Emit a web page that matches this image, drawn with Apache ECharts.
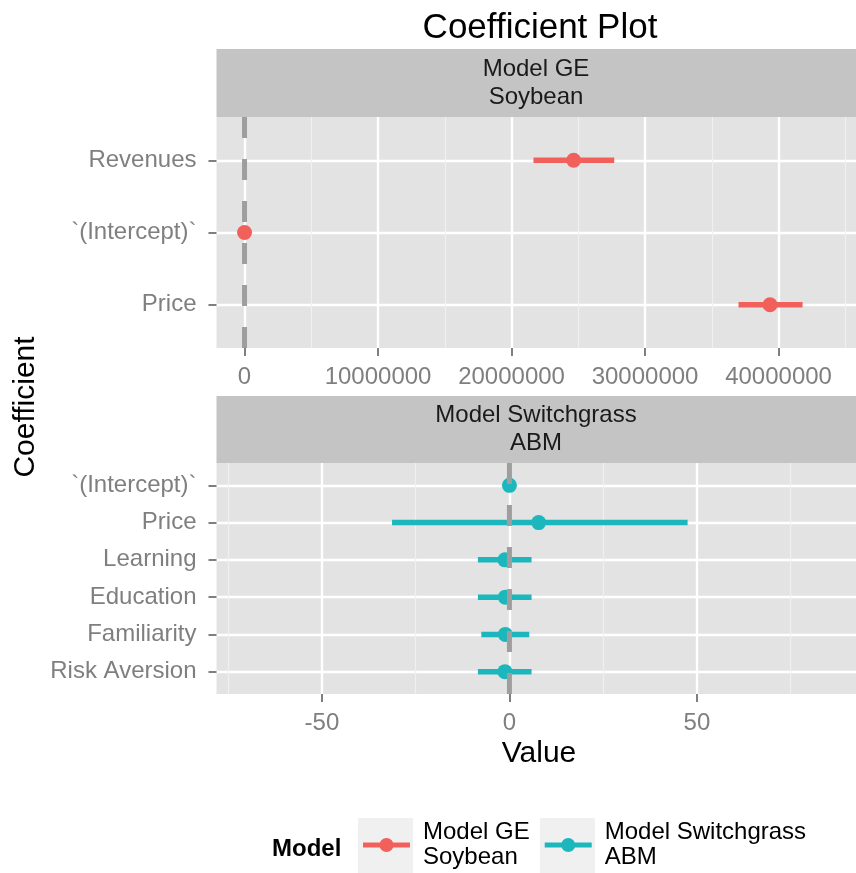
<!DOCTYPE html>
<html>
<head>
<meta charset="utf-8">
<script src="https://cdn.jsdelivr.net/npm/echarts@6/dist/echarts.min.js"></script>
<style>
html,body{margin:0;padding:0;background:#fff;}
#chart{width:856px;height:873px;}
</style>
</head>
<body>
<div id="chart"></div>
<script>
// ---------- data ----------
const chartTitle = 'Coefficient Plot';
const xTitle = 'Value';
const yTitle = 'Coefficient';
const legendTitle = 'Model';
const models = ['Model GE\nSoybean', 'Model Switchgrass\nABM'];

const geCoefs = ['Revenues', '`(Intercept)`', 'Price'];
const geEst  = [24650000, 0, 39360000];
const geLow  = [21640000, -150000, 37000000];
const geHigh = [27690000, 150000, 41800000];
const geTicks = [0, 10000000, 20000000, 30000000, 40000000];
const geMinor = [5000000, 15000000, 25000000, 35000000, 45000000];
const geRange = [-2100000, 45800000];

const abmCoefs = ['`(Intercept)`', 'Price', 'Learning', 'Education', 'Familiarity', 'Risk Aversion'];
const abmEst  = [0, 7.8, -1.2, -1.1, -1.1, -1.2];
const abmLow  = [-0.8, -31.3, -8.4, -8.4, -7.5, -8.4];
const abmHigh = [0.8, 47.5, 5.9, 5.9, 5.3, 5.9];
const abmTicks = [-50, 0, 50];
const abmMinor = [-75, -25, 25, 75];
const abmRange = [-78.1, 92.4];

const zeroRef = 0;

// ---------- style ----------
const FONT = "'Liberation Sans', Arial, Helvetica, sans-serif";
const COLORS = ['#F2605C', '#1BB7BD'];
const PANEL_BG = '#E3E3E3';
const STRIP_BG = '#C4C4C4';
const GRAY_TXT = '#7f7f7f';
const PANEL_LEFT = 216.5, PANEL_W = 856 - 216.5, PANEL_H = 231;
const PANEL_TOPS = [117, 463];
const STRIPS = [[49, 68], [396, 67]];

const chart = echarts.init(document.getElementById('chart'));

function panelDefs(gi, cats, ticks, minor, range) {
  const n = cats.length;
  const idx = cats.map((c, i) => i);
  const xMinor = {
    type: 'value', gridIndex: gi, min: range[0], max: range[1], position: 'top',
    axisLine: {show: false, onZero: false},
    axisTick: {show: false, customValues: minor},
    axisLabel: {show: false},
    splitLine: {show: true, lineStyle: {color: '#F0F0F0', width: 1.2}}
  };
  const xMajor = {
    type: 'value', gridIndex: gi, min: range[0], max: range[1], position: 'bottom',
    axisLine: {show: false, onZero: false},
    axisTick: {show: true, customValues: ticks, length: 8, lineStyle: {color: GRAY_TXT, width: 2}},
    axisLabel: {customValues: ticks, formatter: v => String(Math.round(v)), color: GRAY_TXT,
                fontSize: 24, fontFamily: FONT, margin: 17},
    splitLine: {show: true, lineStyle: {color: '#FFFFFF', width: 2.4}}
  };
  const y = {
    type: 'value', gridIndex: gi, min: -0.6, max: n - 1 + 0.6, inverse: true, position: 'left',
    axisLine: {show: false, onZero: false},
    axisTick: {show: true, customValues: idx, length: 8, lineStyle: {color: GRAY_TXT, width: 2}},
    axisLabel: {customValues: idx, formatter: v => cats[Math.round(v)], color: GRAY_TXT,
                fontSize: 24, fontFamily: FONT, margin: 20},
    splitLine: {show: true, lineStyle: {color: '#FFFFFF', width: 2.4}}
  };
  return {xMinor, xMajor, y, n};
}

const p0 = panelDefs(0, geCoefs, geTicks, geMinor, geRange);
const p1 = panelDefs(1, abmCoefs, abmTicks, abmMinor, abmRange);

function renderCI(color) {
  return function (params, api) {
    const yv = api.value(1);
    const a = api.coord([api.value(2), yv]);
    const b = api.coord([api.value(3), yv]);
    const c = api.coord([api.value(0), yv]);
    return {
      type: 'group',
      children: [
        {type: 'line', shape: {x1: a[0], y1: a[1], x2: b[0], y2: b[1]}, style: {stroke: color, lineWidth: 5.5}},
        {type: 'circle', shape: {cx: c[0], cy: c[1], r: 7.5}, style: {fill: color}}
      ]
    };
  };
}

function zeroSeries(xi, yi, n) {
  return {
    type: 'line', name: 'zero' + xi, xAxisIndex: xi, yAxisIndex: yi, silent: true,
    symbol: 'none', animation: false,
    lineStyle: {color: '#9E9E9E', width: 5, type: [21, 21]},
    data: [[zeroRef, n - 1 + 0.6], [zeroRef, -0.6]]
  };
}

const legendIcon = 'path://M0,4L17.5,4L17.5,9L0,9Z M16.5,6.5A7,7,0,1,1,30.5,6.5A7,7,0,1,1,16.5,6.5Z M29.5,4L47,4L47,9L29.5,9Z';

const option = {
  backgroundColor: '#ffffff',
  animation: false,
  textStyle: {fontFamily: FONT},
  grid: PANEL_TOPS.map(t => ({
    left: PANEL_LEFT, top: t, width: PANEL_W, height: PANEL_H,
    show: true, backgroundColor: PANEL_BG, borderWidth: 0, containLabel: false, outerBoundsMode: 'none'
  })),
  xAxis: [p0.xMinor, p0.xMajor, p1.xMinor, p1.xMajor],
  yAxis: [p0.y, p1.y],
  legend: {
    data: models.map(m => ({name: m, icon: legendIcon})),
    left: 363, top: 820, padding: 0, orient: 'horizontal',
    itemWidth: 47, itemHeight: 14, itemGap: 15, selectedMode: false, z: 10,
    textStyle: {fontSize: 24, fontFamily: FONT, color: '#000', lineHeight: 25, padding: [0, 0, 0, 8]}
  },
  series: [
    zeroSeries(1, 0, p0.n),
    {
      type: 'custom', name: models[0], xAxisIndex: 1, yAxisIndex: 0,
      itemStyle: {color: COLORS[0]},
      renderItem: renderCI(COLORS[0]),
      encode: {x: [0, 2, 3], y: 1},
      data: geEst.map((e, i) => [e, i, geLow[i], geHigh[i]])
    },
    zeroSeries(3, 1, p1.n),
    {
      type: 'custom', name: models[1], xAxisIndex: 3, yAxisIndex: 1,
      itemStyle: {color: COLORS[1]},
      renderItem: renderCI(COLORS[1]),
      encode: {x: [0, 2, 3], y: 1},
      data: abmEst.map((e, i) => [e, i, abmLow[i], abmHigh[i]])
    }
  ],
  graphic: [
    // strips
    {type: 'rect', z: 0, shape: {x: PANEL_LEFT, y: STRIPS[0][0], width: PANEL_W, height: STRIPS[0][1]}, style: {fill: STRIP_BG}},
    {type: 'rect', z: 0, shape: {x: PANEL_LEFT, y: STRIPS[1][0], width: PANEL_W, height: STRIPS[1][1]}, style: {fill: STRIP_BG}},
    {type: 'text', z: 1, x: 536, y: STRIPS[0][0] + STRIPS[0][1] / 2,
     style: {text: models[0], align: 'center', verticalAlign: 'middle', fontSize: 24, lineHeight: 28, fontFamily: FONT, fill: '#1a1a1a'}},
    {type: 'text', z: 1, x: 536, y: STRIPS[1][0] + STRIPS[1][1] / 2,
     style: {text: models[1], align: 'center', verticalAlign: 'middle', fontSize: 24, lineHeight: 28, fontFamily: FONT, fill: '#1a1a1a'}},
    // title
    {type: 'text', x: 540, y: 28,
     style: {text: chartTitle, align: 'center', verticalAlign: 'middle', fontSize: 35, fontFamily: FONT, fill: '#000'}},
    // axis titles
    {type: 'text', x: 539, y: 754,
     style: {text: xTitle, align: 'center', verticalAlign: 'middle', fontSize: 30, fontFamily: FONT, fill: '#000'}},
    {type: 'text', x: 26, y: 407, rotation: Math.PI / 2,
     style: {text: yTitle, align: 'center', verticalAlign: 'middle', fontSize: 30, fontFamily: FONT, fill: '#000'}},
    // legend title and key backgrounds
    {type: 'text', x: 272, y: 849,
     style: {text: legendTitle, align: 'left', verticalAlign: 'middle', fontSize: 24, fontWeight: 'bold', fontFamily: FONT, fill: '#000'}},
    {type: 'rect', z: 1, shape: {x: 358, y: 818, width: 55, height: 60}, style: {fill: '#F0F0F0'}},
    {type: 'rect', z: 1, shape: {x: 540, y: 818, width: 55, height: 60}, style: {fill: '#F0F0F0'}}
  ]
};

chart.setOption(option);
</script>
</body>
</html>
